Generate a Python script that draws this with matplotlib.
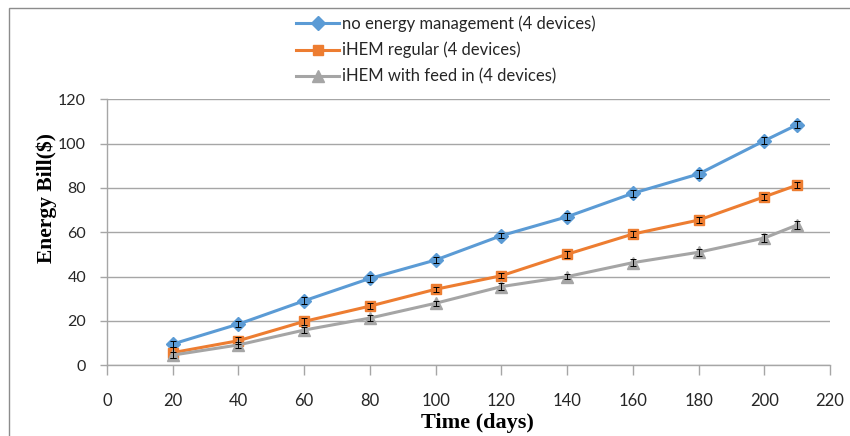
import matplotlib
matplotlib.use("Agg")
import matplotlib.pyplot as plt
from matplotlib import font_manager
from matplotlib.patches import Rectangle

# --- data -------------------------------------------------------------
days = [20, 40, 60, 80, 100, 120, 140, 160, 180, 200, 210]

bill_no_management = [9.6, 18.6, 29.1, 39.2, 47.5, 58.5, 67.0, 77.6, 86.3, 101.3, 108.5]
bill_ihem_regular = [5.7, 11.1, 19.8, 26.7, 34.3, 40.4, 50.1, 59.2, 65.5, 76.0, 81.3]
bill_ihem_feed_in = [4.6, 9.2, 15.9, 21.3, 28.0, 35.5, 40.0, 46.3, 51.0, 57.4, 63.3]

err_no_management = [1.5, 1.5, 1.5, 1.5, 1.2, 1.2, 1.5, 1.5, 2.0, 1.5, 1.5]
err_ihem_regular = [2.5, 1.5, 1.5, 1.5, 1.2, 1.2, 1.5, 1.2, 1.2, 1.5, 1.2]
err_ihem_feed_in = [1.5, 1.2, 1.2, 1.2, 1.2, 1.5, 1.2, 1.5, 1.5, 2.0, 2.0]

series_labels = [
    "no energy management (4 devices)",
    "iHEM regular (4 devices)",
    "iHEM with feed in (4 devices)",
]
x_ticks = list(range(0, 221, 20))
y_ticks = list(range(0, 121, 20))

# --- fonts ------------------------------------------------------------
available = {f.name for f in font_manager.fontManager.ttflist}
sans = "Liberation Sans Narrow" if "Liberation Sans Narrow" in available else "Lato"
serif = "Liberation Serif"

# --- figure -----------------------------------------------------------
W, H, DPI = 850, 436, 100
fig = plt.figure(figsize=(W / DPI, H / DPI), dpi=DPI)
fig.patch.set_facecolor("white")

# outer chart frame
fig.patches.append(Rectangle((9 / W, -0.1), 1.2, (H - 8) / H + 0.1,
                             transform=fig.transFigure, fill=False,
                             edgecolor="#8c8c8c", linewidth=1.0))

ax = fig.add_axes([107 / W, (H - 365.3) / H, (830 - 107) / W, (365.3 - 99.3) / H])

grid_col = "#a6a6a6"
colors = ["#5b9bd5", "#ed7d31", "#a5a5a5"]
markers = ["D", "s", "^"]
msizes = [7, 7, 8.5]
series = [bill_no_management, bill_ihem_regular, bill_ihem_feed_in]
errors = [err_no_management, err_ihem_regular, err_ihem_feed_in]

handles = []
for vals, errs, c, m, ms, lab in zip(series, errors, colors, markers, msizes, series_labels):
    ax.errorbar(days, vals, yerr=errs, fmt="none", ecolor="black",
                elinewidth=0.7, capsize=2.5, capthick=0.7, zorder=4)
    h, = ax.plot(days, vals, color=c, marker=m, markersize=ms,
                 linewidth=2.2, markeredgecolor=c, label=lab, zorder=3)
    handles.append(h)

ax.set_xlim(0, 220)
ax.set_ylim(0, 120)
ax.set_xticks(x_ticks)
ax.set_yticks(y_ticks)

ax.grid(axis="y", color=grid_col, linewidth=1.0)
ax.set_axisbelow(True)
for s in ("top", "right"):
    ax.spines[s].set_visible(False)
for s in ("left", "bottom"):
    ax.spines[s].set_color(grid_col)
    ax.spines[s].set_linewidth(1.0)

ax.tick_params(axis="x", direction="out", length=7, width=1.0, color=grid_col,
               pad=13, labelsize=12, labelcolor="#262626")
ax.tick_params(axis="y", direction="out", length=5, width=1.0, color=grid_col,
               pad=10, labelsize=11.5, labelcolor="#262626")
for lbl in ax.get_xticklabels() + ax.get_yticklabels():
    lbl.set_fontfamily(sans)

fig.text(47 / W, 1 - 198 / H, "Energy Bill($)", rotation=90, ha="center", va="center",
         fontfamily=serif, fontweight="bold", fontsize=15.5)
fig.text(477 / W, 1 - 423 / H, "Time (days)", ha="center", va="center",
         fontfamily=serif, fontweight="bold", fontsize=16)

leg = fig.legend(handles=handles, loc="upper left",
                 bbox_to_anchor=(296 / W, 1 - 15 / H),
                 frameon=False, handlelength=2.6, handletextpad=0.15,
                 labelspacing=0.62, borderpad=0.0, borderaxespad=0.0,
                 prop={"family": sans, "size": 12})
for t in leg.get_texts():
    t.set_color("#262626")

fig.savefig("out.png", dpi=DPI, facecolor="white")
